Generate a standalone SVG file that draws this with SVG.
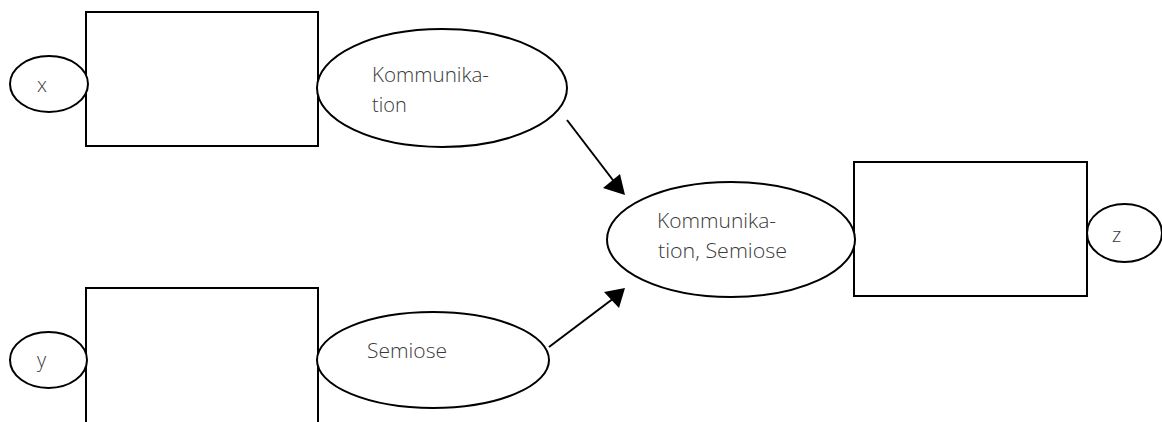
<svg xmlns="http://www.w3.org/2000/svg" width="1162" height="422" viewBox="0 0 1162 422">
<style>
.box{fill:#fff;stroke:#000;stroke-width:2}
.ell{fill:#fff;stroke:#000;stroke-width:2}
.lbl{font-family:"Open Sans","Liberation Sans",sans-serif;font-size:20px;font-weight:300;fill:#3a3a3a}
</style>
<rect width="1162" height="422" fill="#fff"/>
<g id="box-top"><rect class="box" x="86" y="12" width="232" height="134"/></g>
<g id="box-bottom"><rect class="box" x="86" y="288" width="232" height="140"/></g>
<g id="box-right"><rect class="box" x="854" y="162" width="233" height="134"/></g>
<g id="node-x"><ellipse class="ell" cx="49" cy="84" rx="39" ry="28"/><text class="lbl" x="37" y="92">x</text></g>
<g id="node-y"><ellipse class="ell" cx="48.5" cy="360" rx="38.5" ry="28"/><text class="lbl" x="37" y="367">y</text></g>
<g id="node-z"><ellipse class="ell" cx="1124.5" cy="233" rx="37.5" ry="29"/><text class="lbl" x="1112" y="242">z</text></g>
<g id="node-komm"><ellipse class="ell" cx="442" cy="88" rx="125" ry="59"/><text class="lbl" x="372" y="82" textLength="117" lengthAdjust="spacingAndGlyphs">Kommunika-</text><text class="lbl" x="372" y="112">tion</text></g>
<g id="node-semiose"><ellipse class="ell" cx="433" cy="360" rx="116" ry="48"/><text class="lbl" x="367" y="358" textLength="80" lengthAdjust="spacingAndGlyphs">Semiose</text></g>
<g id="node-center"><ellipse class="ell" cx="731" cy="239.5" rx="124" ry="57.5"/><text class="lbl" x="657" y="228" textLength="119" lengthAdjust="spacingAndGlyphs">Kommunika-</text><text class="lbl" x="658" y="258" textLength="129" lengthAdjust="spacingAndGlyphs">tion, Semiose</text></g>
<g id="connectors">
<line x1="567" y1="120" x2="619" y2="188" stroke="#000" stroke-width="2"/>
<path d="M625,195 L603,188 L620,174 Z" fill="#000"/>
<line x1="549" y1="347" x2="614" y2="298" stroke="#000" stroke-width="2"/>
<path d="M625,288 L619,308 L604,292 Z" fill="#000"/>
</g>
</svg>
